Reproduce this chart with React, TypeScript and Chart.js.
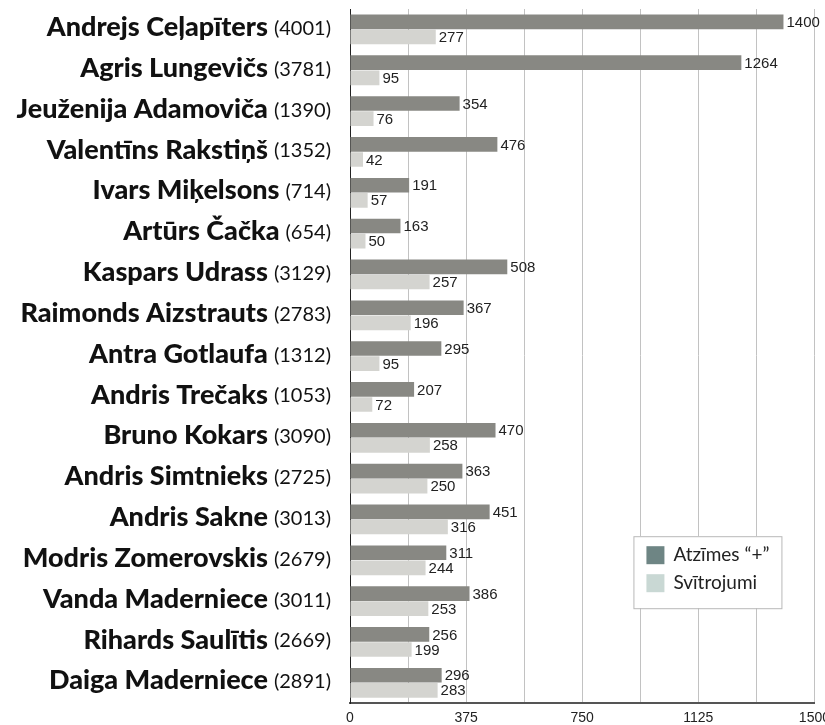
import React, { useEffect, useRef } from "react";
import { Chart, registerables } from "chart.js";

Chart.register(...registerables);

const names = [
  "Andrejs Ceļapīters",
  "Agris Lungevičs",
  "Jeuženija Adamoviča",
  "Valentīns Rakstiņš",
  "Ivars Miķelsons",
  "Artūrs Čačka",
  "Kaspars Udrass",
  "Raimonds Aizstrauts",
  "Antra Gotlaufa",
  "Andris Trečaks",
  "Bruno Kokars",
  "Andris Simtnieks",
  "Andris Sakne",
  "Modris Zomerovskis",
  "Vanda Maderniece",
  "Rihards Saulītis",
  "Daiga Maderniece",
];
const totals = [4001, 3781, 1390, 1352, 714, 654, 3129, 2783, 1312, 1053, 3090, 2725, 3013, 2679, 3011, 2669, 2891];
const plusMarks = [1400, 1264, 354, 476, 191, 163, 508, 367, 295, 207, 470, 363, 451, 311, 386, 256, 296];
const strikeouts = [277, 95, 76, 42, 57, 50, 257, 196, 95, 72, 258, 250, 316, 244, 253, 199, 283];
const seriesNames = ["Atzīmes “+”", "Svītrojumi"];
const xTicks = [0, 375, 750, 1125, 1500];

const NAME_FONT = "Lato";

const labelsPlugin = {
  id: "customLabels",
  afterDatasetsDraw(chart: any) {
    const ctx = chart.ctx;
    ctx.save();
    ctx.fillStyle = "#222";
    ctx.font = "15px 'Liberation Sans', Arial, sans-serif";
    ctx.textBaseline = "middle";
    ctx.textAlign = "left";
    chart.data.datasets.forEach((ds: any, di: number) => {
      const meta = chart.getDatasetMeta(di);
      meta.data.forEach((bar: any, i: number) => {
        ctx.fillText(String(ds.data[i]), bar.x + 3, bar.y + 1);
      });
    });
    ctx.restore();
  },
  afterDraw(chart: any) {
    const ctx = chart.ctx;
    const y = chart.scales.y;
    const area = chart.chartArea;
    ctx.save();
    ctx.textBaseline = "middle";
    ctx.fillStyle = "#111";
    const rightX = area.left - 19;
    names.forEach((n, i) => {
      const cy = y.getPixelForValue(i) - 2;
      ctx.font = `20px ${NAME_FONT}, sans-serif`;
      const num = `(${totals[i]})`;
      ctx.textAlign = "right";
      ctx.fillText(num, rightX, cy + 1);
      const w = ctx.measureText(num).width;
      ctx.font = `900 27px ${NAME_FONT}, sans-serif`;
      ctx.fillText(n, rightX - w - 6, cy);
    });
    // legend box
    const bx = area.right - 181;
    const by = area.bottom - 167;
    const bw = 148;
    const bh = 72;
    ctx.fillStyle = "#fff";
    ctx.fillRect(bx, by, bw, bh);
    ctx.strokeStyle = "#b8b8b8";
    ctx.lineWidth = 1;
    ctx.strokeRect(bx + 0.5, by + 0.5, bw, bh);
    const swatch = ["#6e8584", "#c9d8d4"];
    seriesNames.forEach((s, i) => {
      const sy = by + 10 + i * 28;
      ctx.fillStyle = swatch[i];
      ctx.fillRect(bx + 13, sy, 18, 18);
      ctx.fillStyle = "#222";
      ctx.textAlign = "left";
      ctx.font = `19px ${NAME_FONT}, sans-serif`;
      ctx.fillText(s, bx + 40, sy + 9);
    });
    ctx.restore();
  },
};

export default function App() {
  const ref = useRef<HTMLCanvasElement | null>(null);
  useEffect(() => {
    if (!ref.current) return;
    const chart = new Chart(ref.current, {
      type: "bar",
      data: {
        labels: names,
        datasets: [
          {
            label: seriesNames[0],
            data: plusMarks,
            backgroundColor: "#888883",
            categoryPercentage: 0.74,
            barPercentage: 0.97,
          },
          {
            label: seriesNames[1],
            data: strikeouts,
            backgroundColor: "#d4d4d0",
            categoryPercentage: 0.74,
            barPercentage: 0.97,
          },
        ],
      },
      options: {
        indexAxis: "y",
        animation: false,
        responsive: true,
        maintainAspectRatio: false,
        layout: { padding: { left: 342, top: 9, right: 0, bottom: -9 } },
        plugins: { legend: { display: false }, tooltip: { enabled: false } },
        scales: {
          x: {
            min: 0,
            max: 1500,
            afterBuildTicks(scale: any) {
              const t: any[] = [];
              for (let v = 0; v <= 1500; v += 187.5) t.push({ value: v });
              scale.ticks = t;
            },
            ticks: {
              autoSkip: false,
              maxRotation: 0,
              padding: 7,
              color: "#222",
              font: { family: "'Liberation Sans', Arial, sans-serif", size: 14 },
              callback: (v: any) => (xTicks.includes(Number(v)) ? String(v) : ""),
            },
            grid: { color: "#c2c2c2", lineWidth: 1, drawTicks: false },
            border: { color: "#555", width: 2 },
          },
          y: {
            ticks: { display: false },
            grid: { display: false },
            border: { color: "#222", width: 1 },
          },
        },
      },
      plugins: [labelsPlugin],
    });
    return () => chart.destroy();
  }, []);
  return (
    <div style={{ position: "fixed", left: 0, top: 0, width: 825, height: 725, overflow: "hidden", background: "#fff" }}>
      <div style={{ position: "relative", width: 837, height: 725 }}>
        <canvas ref={ref} />
      </div>
    </div>
  );
}
